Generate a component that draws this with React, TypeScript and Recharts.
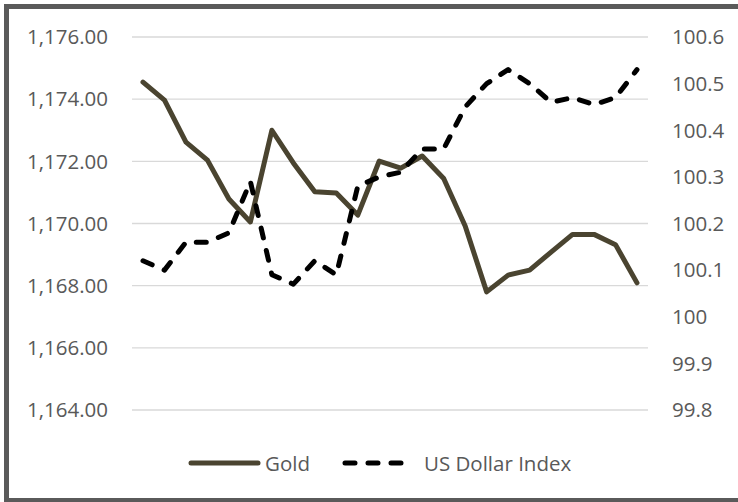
import { LineChart, Line, XAxis, YAxis, CartesianGrid } from 'recharts';

const days = [
  '1', '2', '3', '4', '5', '6', '7', '8', '9', '10', '11', '12',
  '13', '14', '15', '16', '17', '18', '19', '20', '21', '22', '23', '24',
];

const gold = [
  1174.55, 1173.97, 1172.62, 1172.04, 1170.79, 1170.05, 1173.0, 1171.95,
  1171.02, 1170.98, 1170.27, 1172.01, 1171.78, 1172.17, 1171.45, 1169.92,
  1167.8, 1168.34, 1168.5, 1169.08, 1169.65, 1169.65, 1169.32, 1168.09,
];

const dollarIndex = [
  100.12, 100.1, 100.16, 100.16, 100.18, 100.29, 100.09, 100.07,
  100.12, 100.09, 100.28, 100.3, 100.31, 100.36, 100.36, 100.45,
  100.5, 100.53, 100.5, 100.46, 100.47, 100.455, 100.47, 100.53,
];

const goldTicks = [1164, 1166, 1168, 1170, 1172, 1174, 1176];
const dollarTicks = [99.8, 99.9, 100, 100.1, 100.2, 100.3, 100.4, 100.5, 100.6];

const data = days.map((day, i) => ({ day, gold: gold[i], usd: dollarIndex[i] }));

const FONT = '"Open Sans", sans-serif';
const TEXT = '#595959';
const GOLD = '#4a4430';
const FS = 20.5;

function ChartLegend() {
  return (
    <div
      style={{
        position: 'absolute',
        left: 186,
        top: 449,
        display: 'flex',
        alignItems: 'center',
        fontFamily: FONT,
        fontSize: FS,
        color: TEXT,
        whiteSpace: 'nowrap',
      }}
    >
      <svg width={76} height={12}>
        <line x1={5} x2={72} y1={6} y2={6} stroke={GOLD} strokeWidth={5} strokeLinecap="round" />
      </svg>
      <span style={{ marginLeft: 3 }}>Gold</span>
      <svg width={70} height={12} style={{ marginLeft: 30 }}>
        <line
          x1={5}
          x2={65}
          y1={6}
          y2={6}
          stroke="#000"
          strokeWidth={5}
          strokeLinecap="round"
          strokeDasharray="10 13"
        />
      </svg>
      <span style={{ marginLeft: 14 }}>US Dollar Index</span>
    </div>
  );
}

export default function App() {
  return (
    <div
      style={{
        position: 'fixed',
        left: 0,
        top: 0,
        width: 738,
        height: 502,
        overflow: 'hidden',
        background: '#fff',
      }}
    >
      <div
        style={{
          position: 'absolute',
          left: 4,
          top: 4,
          width: 734,
          height: 498,
          boxSizing: 'border-box',
          borderTop: '5px solid #5a5a5a',
          borderLeft: '5px solid #5a5a5a',
          borderBottom: '4px solid #5a5a5a',
        }}
      />
      <div style={{ position: 'absolute', left: 0, top: 0 }}>
        <LineChart width={738} height={502} data={data} margin={{ top: 37, right: 0, bottom: 92, left: 0 }}>
          <CartesianGrid yAxisId="left" vertical={false} stroke="#d9d9d9" strokeWidth={1.3} />
          <XAxis dataKey="day" hide padding={{ left: 11, right: 11 }} />
          <YAxis
            yAxisId="left"
            width={132}
            domain={[1164, 1176]}
            ticks={goldTicks}
            axisLine={false}
            tickLine={false}
            tickSize={0}
            tickMargin={24}
            tick={{ fill: TEXT, fontSize: FS, fontFamily: FONT }}
            tickFormatter={(v) =>
              Number(v).toLocaleString('en-US', { minimumFractionDigits: 2, maximumFractionDigits: 2 })
            }
          />
          <YAxis
            yAxisId="right"
            orientation="right"
            width={90}
            domain={[99.8, 100.6]}
            ticks={dollarTicks}
            axisLine={false}
            tickLine={false}
            tickSize={0}
            tickMargin={24}
            tick={{ fill: TEXT, fontSize: FS, fontFamily: FONT, textAnchor: 'start' }}
            tickFormatter={(v) => String(Math.round(Number(v) * 10) / 10)}
          />
          <Line
            yAxisId="left"
            type="linear"
            dataKey="gold"
            name="Gold"
            stroke={GOLD}
            strokeWidth={5}
            dot={false}
            strokeLinejoin="round"
            strokeLinecap="round"
            isAnimationActive={false}
          />
          <Line
            yAxisId="right"
            type="linear"
            dataKey="usd"
            name="US Dollar Index"
            stroke="#000"
            strokeWidth={5}
            strokeDasharray="10 13"
            dot={false}
            strokeLinejoin="round"
            strokeLinecap="round"
            isAnimationActive={false}
          />
        </LineChart>
      </div>
      <ChartLegend />
    </div>
  );
}
